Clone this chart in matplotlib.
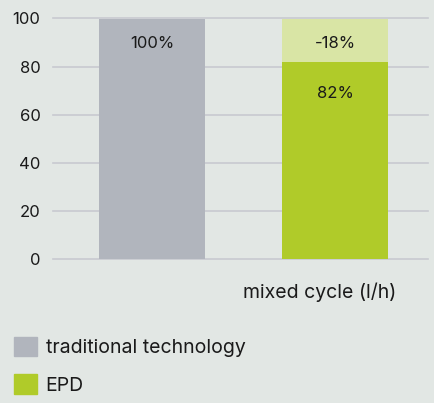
import matplotlib.pyplot as plt
from matplotlib.patches import Patch

plt.rcParams['font.family'] = ['Inter', 'DejaVu Sans']

series = ["traditional technology", "EPD"]
values = [100, 82]
saving = [0, 18]
bar_labels = ["100%", "82%"]
saving_label = "-18%"
x_label = "mixed cycle (l/h)"
yticks = [0, 20, 40, 60, 80, 100]

bg = "#e2e7e4"
gray = "#b1b5bd"
green = "#b0cb29"
light_green = "#d9e5a5"
text_col = "#1a1a1a"

fig = plt.figure(figsize=(4.35, 4.03), dpi=100, facecolor=bg)
ax = fig.add_axes([53/435, 144/403, 375/435, 240.5/403], facecolor=bg)

x = [0, 1]
w = 0.58
ax.bar(x[0], values[0], width=w, color=gray, zorder=2)
ax.bar(x[1], values[1], width=w, color=green, zorder=2)
ax.bar(x[1], saving[1], bottom=values[1], width=w, color=light_green, zorder=2)

# labels sit a bit below the top of each segment
ax.text(x[0], values[0] - 10.4, bar_labels[0], ha="center", va="center", fontsize=12, color=text_col)
ax.text(x[1], values[1] - 13, bar_labels[1], ha="center", va="center", fontsize=12, color=text_col)
ax.text(x[1], values[1] + saving[1] - 10.4, saving_label, ha="center", va="center", fontsize=12, color=text_col)

ax.set_xlim(-0.541, 1.508)
ax.set_ylim(0, 100)
ax.set_yticks(yticks)
ax.set_xticks([])
ax.tick_params(axis="y", length=0, pad=9, labelsize=12, labelcolor=text_col)
for s in ax.spines.values():
    s.set_visible(False)
ax.yaxis.grid(True, color="#c8cad0", linewidth=1.2, zorder=0)
ax.set_axisbelow(True)
for line in ax.get_ygridlines():
    line.set_clip_on(False)

fig.text(320/435, 1 - 292/403, x_label, ha="center", va="center", fontsize=14, color=text_col)

handles = [Patch(color=gray, label=series[0]), Patch(color=green, label=series[1])]
fig.legend(handles=handles, loc="upper left", bbox_to_anchor=(-4/435, 1 - 319/403),
           frameon=False, handlelength=1.2, handleheight=1.2, handletextpad=0.45,
           labelspacing=0.88, fontsize=14, labelcolor=text_col)

fig.savefig("out.png", dpi=100, facecolor=bg)
